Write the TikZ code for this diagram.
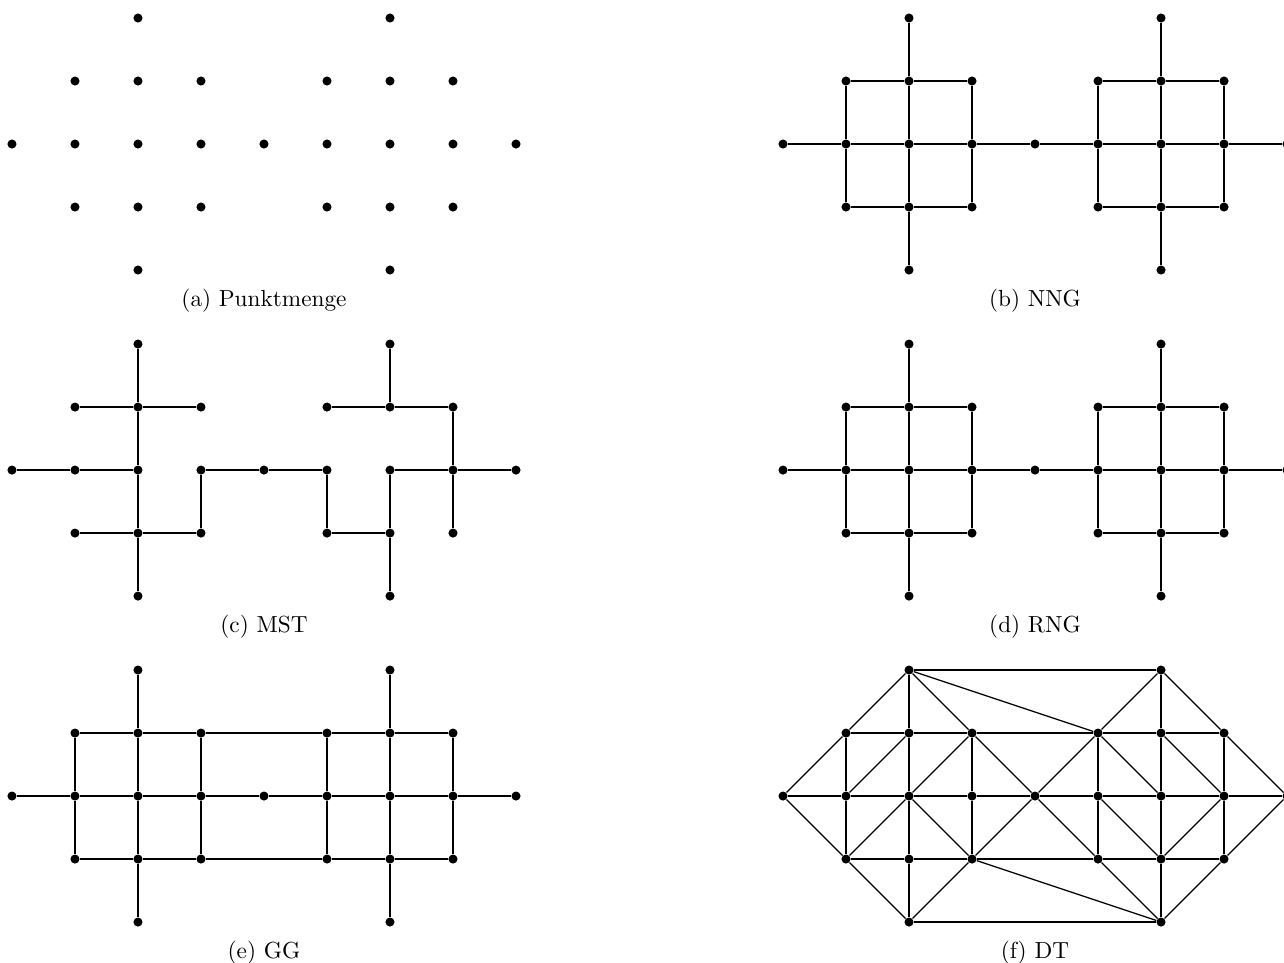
\documentclass[tikz,border=0pt]{standalone}
\usepackage{amsmath,amssymb}
\usepackage{tikz}
\usepackage{xcolor}

\newcommand{\punktmenge}[1]{%
  \foreach \i/\j in {2/0,6/0,1/1,2/1,3/1,5/1,6/1,7/1,0/2,1/2,2/2,3/2,4/2,5/2,6/2,7/2,8/2,1/3,2/3,3/3,5/3,6/3,7/3,2/4,6/4}
    \node[pkt] (#1\i\j) at (\i,2-\j) {};}

\begin{document}
\begin{tikzpicture}[pkt/.style={circle,fill,inner sep=0pt,minimum size=4.1pt},kante/.style={line width=0.55pt},
  unterschrift/.style={font=\fontsize{10.5}{12}\selectfont}]
  \useasboundingbox (-0.19,-12.984) rectangle (20.19,2.286);
  \begin{scope}[shift={(0,0)}]
    \punktmenge{a} \node[unterschrift] (capa) at (4,-2.49) {(a)\ Punktmenge};
  \end{scope}
  \begin{scope}[shift={(12.238,0)}]
    \punktmenge{b} \node[unterschrift] (capb) at (4,-2.49) {(b)\ NNG};
  \end{scope}
  \begin{scope}[shift={(0,-5.175)}]
    \punktmenge{c} \node[unterschrift] (capc) at (4,-2.49) {(c)\ MST};
  \end{scope}
  \begin{scope}[shift={(12.238,-5.175)}]
    \punktmenge{d} \node[unterschrift] (capd) at (4,-2.49) {(d)\ RNG};
  \end{scope}
  \begin{scope}[shift={(0,-10.349)}]
    \punktmenge{e} \node[unterschrift] (cape) at (4,-2.49) {(e)\ GG};
  \end{scope}
  \begin{scope}[shift={(12.238,-10.349)}]
    \punktmenge{f} \node[unterschrift] (capf) at (4,-2.49) {(f)\ DT};
  \end{scope}

  \foreach \p in {b,d} {
    \draw[kante] (\p20) -- (\p21) -- (\p22) -- (\p23) -- (\p24); \draw[kante] (\p60) -- (\p61) -- (\p62) -- (\p63) -- (\p64);
    \draw[kante] (\p02) -- (\p12) -- (\p22) -- (\p32) -- (\p42) -- (\p52) -- (\p62) -- (\p72) -- (\p82);
    \draw[kante] (\p11) -- (\p21) -- (\p31) -- (\p32) -- (\p33) -- (\p23) -- (\p13) -- (\p12) -- (\p11);
    \draw[kante] (\p51) -- (\p61) -- (\p71) -- (\p72) -- (\p73) -- (\p63) -- (\p53) -- (\p52) -- (\p51);
  }

  \draw[kante] (c20) -- (c21) -- (c22) -- (c23) -- (c24); \draw[kante] (c11) -- (c21) -- (c31);
  \draw[kante] (c02) -- (c12) -- (c22); \draw[kante] (c42) -- (c32) -- (c33) -- (c23) -- (c13);
  \draw[kante] (c42) -- (c52) -- (c53) -- (c63); \draw[kante] (c62) -- (c63) -- (c64);
  \draw[kante] (c62) -- (c72) -- (c82); \draw[kante] (c60) -- (c61);
  \draw[kante] (c51) -- (c61) -- (c71) -- (c72) -- (c73);

  \draw[kante] (e20) -- (e21) -- (e22) -- (e23) -- (e24); \draw[kante] (e60) -- (e61) -- (e62) -- (e63) -- (e64);
  \draw[kante] (e11) -- (e21) -- (e31) -- (e51) -- (e61) -- (e71); \draw[kante] (e13) -- (e23) -- (e33) -- (e53) -- (e63) -- (e73);
  \draw[kante] (e02) -- (e12) -- (e22) -- (e32) -- (e42) -- (e52) -- (e62) -- (e72) -- (e82);
  \foreach \i in {1,3,5,7} \draw[kante] (e\i1) -- (e\i2) -- (e\i3);

  \draw[kante] (f20) -- (f60); \draw[kante] (f24) -- (f64);
  \draw[kante] (f20) -- (f11) -- (f02) -- (f13) -- (f24); \draw[kante] (f60) -- (f71) -- (f82) -- (f73) -- (f64);
  \draw[kante] (f20) -- (f51); \draw[kante] (f33) -- (f64); \draw[kante] (f20) -- (f31); \draw[kante] (f60) -- (f51);
  \draw[kante] (f11) -- (f21) -- (f31) -- (f51) -- (f61) -- (f71); \draw[kante] (f13) -- (f23) -- (f33) -- (f53) -- (f63) -- (f73);
  \draw[kante] (f02) -- (f12) -- (f22) -- (f32) -- (f42) -- (f52) -- (f62) -- (f72) -- (f82);
  \draw[kante] (f20) -- (f21) -- (f22) -- (f23) -- (f24); \draw[kante] (f60) -- (f61) -- (f62) -- (f63) -- (f64);
  \foreach \i in {1,3,5,7} \draw[kante] (f\i1) -- (f\i2) -- (f\i3);
  \draw[kante] (f21) -- (f12); \draw[kante] (f31) -- (f22); \draw[kante] (f31) -- (f42); \draw[kante] (f51) -- (f42);
  \draw[kante] (f22) -- (f13); \draw[kante] (f22) -- (f33); \draw[kante] (f42) -- (f33); \draw[kante] (f42) -- (f53);
  \draw[kante] (f33) -- (f24); \draw[kante] (f51) -- (f62); \draw[kante] (f61) -- (f72); \draw[kante] (f52) -- (f63);
  \draw[kante] (f72) -- (f63); \draw[kante] (f53) -- (f64);
\end{tikzpicture}
\end{document}
